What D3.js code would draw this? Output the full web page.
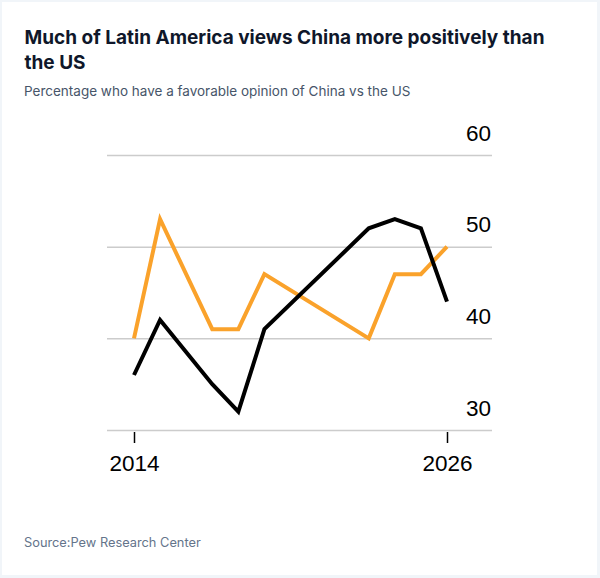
<!DOCTYPE html>
<html>
<head>
<meta charset="utf-8">
<script src="https://cdn.jsdelivr.net/npm/d3@7"></script>
<style>
  html, body { margin: 0; padding: 0; background: #f1f5f9; }
  svg { display: block; }
</style>
</head>
<body>
<svg></svg>
<script>
const years = [2014, 2015, 2017, 2018, 2019, 2023, 2024, 2025, 2026];
const usFavorable = [36, 42, 35, 32, 41, 52, 53, 52, 44];
const chinaFavorable = [40, 53, 41, 41, 47, 40, 47, 47, 50];
const yTicks = [30, 40, 50, 60];
const xTicks = [2014, 2026];

const svg = d3.select('svg')
	.attr('width', 600)
	.attr('height', 578);

svg.append('rect')
	.attr('x', 2).attr('y', 2)
	.attr('width', 595).attr('height', 573)
	.attr('fill', '#fff');

// titles
const title = svg.append('text')
	.attr('font-family', 'Inter, sans-serif')
	.attr('font-weight', 700)
	.attr('font-size', 19)
	.attr('fill', '#0f172a');
title.append('tspan').attr('x', 24.5).attr('y', 43.5).text('Much of Latin America views China more positively than');
title.append('tspan').attr('x', 24.5).attr('y', 68.5).text('the US');

svg.append('text')
	.attr('x', 24).attr('y', 96)
	.attr('font-family', 'Inter, sans-serif')
	.attr('font-size', 13.5)
	.attr('fill', '#475569')
	.text('Percentage who have a favorable opinion of China vs the US');

svg.append('text')
	.attr('x', 24).attr('y', 547)
	.attr('font-family', 'Inter, sans-serif')
	.attr('font-size', 12.8)
	.attr('fill', '#64748b')
	.text('Source:Pew Research Center');

const x = d3.scaleLinear().domain([2014, 2026]).range([134, 447]);
const y = d3.scaleLinear().domain([30, 60]).range([430, 155]);

const gridLeft = 107, gridRight = 492;

// y axis on the right, labels sit above the gridlines
const yAxis = svg.append('g')
	.attr('transform', `translate(${gridRight}, 0)`)
	.call(d3.axisRight(y).tickValues(yTicks).tickSize(-(gridRight - gridLeft)).tickPadding(0));
yAxis.select('.domain').remove();
yAxis.selectAll('.tick line')
	.attr('stroke', '#cccccc')
	.attr('stroke-width', 1.5);
yAxis.selectAll('.tick text')
	.attr('x', -1)
	.attr('dy', -15)
	.attr('text-anchor', 'end')
	.attr('font-family', '"Liberation Sans", Arial, sans-serif')
	.attr('font-size', 22.5)
	.attr('fill', '#000');

// x axis
const xAxis = svg.append('g')
	.attr('transform', `translate(0, ${y(30) + 2})`)
	.call(d3.axisBottom(x).tickValues(xTicks).tickFormat(d3.format('d')).tickSize(11).tickPadding(12));
xAxis.select('.domain').remove();
xAxis.selectAll('.tick line')
	.attr('stroke', '#000')
	.attr('stroke-width', 1.5);
xAxis.selectAll('.tick text')
	.attr('dy', '0.71em')
	.attr('font-family', '"Liberation Sans", Arial, sans-serif')
	.attr('font-size', 22.5)
	.attr('fill', '#000');

const line = d3.line()
	.x((d, i) => x(years[i]))
	.y(d => y(d));

svg.append('path')
	.attr('d', line(chinaFavorable))
	.attr('fill', 'none')
	.attr('stroke', '#faa22b')
	.attr('stroke-width', 4);

svg.append('path')
	.attr('d', line(usFavorable))
	.attr('fill', 'none')
	.attr('stroke', '#000')
	.attr('stroke-width', 4);
</script>
</body>
</html>
